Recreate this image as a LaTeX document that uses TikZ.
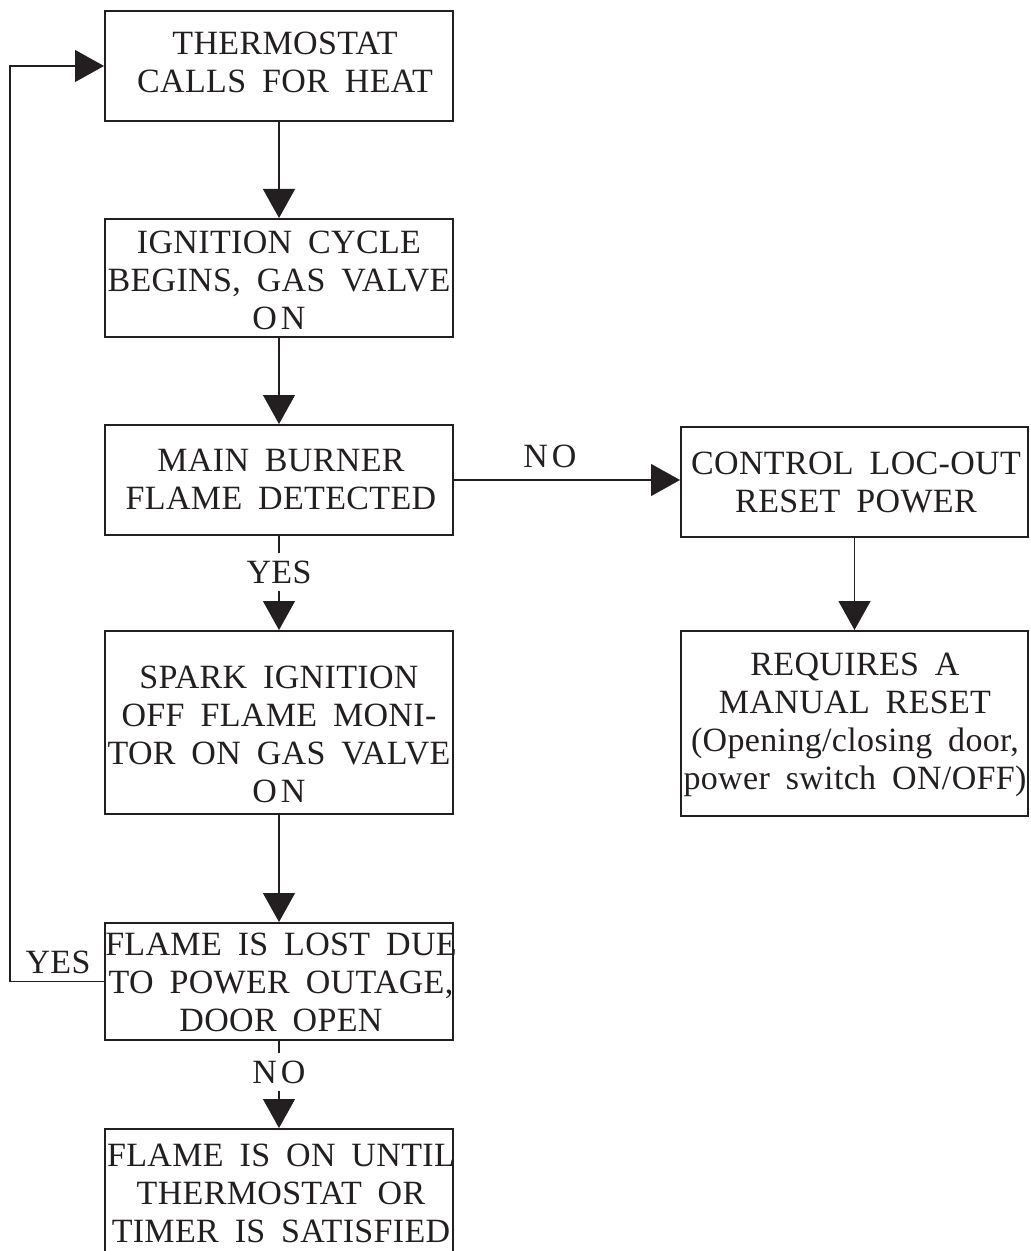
\documentclass[tikz,border=0pt]{standalone}
\usepackage{fontspec}
\setmainfont{Liberation Serif}[WordSpace=1.8,LetterSpace=1]
\usetikzlibrary{arrows.meta}
\definecolor{ink}{HTML}{231F20}
\begin{document}
\begin{tikzpicture}[x=0.5pt,y=-0.5pt,
  box/.style={draw=ink, line width=1pt, inner sep=0pt, minimum width=174pt},
  txt/.style={text=ink, align=center, inner sep=0pt, font=\fontsize{17}{19}\selectfont},
  conn/.style={draw=ink, line width=0.6pt, -{Triangle[length=14.5pt,width=16pt]}},
  plain/.style={draw=ink, line width=0.6pt},
  lbl/.style={text=ink, inner sep=3.5pt, font=\fontsize{17}{19}\selectfont}]
\useasboundingbox (0,0) rectangle (1030,1251);
% boxes
\node[box, minimum height=55pt]   (b1) at (279,66) {};
\node[box, minimum height=59pt]   (b2) at (279,278) {};
\node[box, minimum height=55pt]   (b3) at (279,480) {};
\node[box, minimum height=91.5pt] (b4) at (279,722.5) {};
\node[box, minimum height=58.5pt] (b5) at (279,981.5) {};
\node[box, minimum height=62pt]   (b6) at (279,1191) {};
\node[box, minimum height=55pt, minimum width=173.5pt]   (b7) at (854.5,482) {};
\node[box, minimum height=92.5pt, minimum width=173.5pt] (b8) at (854.5,723.5) {};
% texts
\node[txt] (t1) at (285,62) {THERMOSTAT\\CALLS FOR HEAT};
\node[txt] (t2) at (279,280) {IGNITION CYCLE\\BEGINS, GAS VALVE\\O\kern2pt N};
\node[txt] (t3) at (281,479) {MAIN BURNER\\FLAME DETECTED};
\node[txt] (t4) at (279,734) {SPARK IGNITION\\OFF FLAME MONI-\\TOR ON GAS VALVE\\O\kern2pt N};
\node[txt] (t5) at (281,982) {FLAME IS LOST DUE\\TO POWER OUTAGE,\\DOOR OPEN};
\node[txt] (t6) at (281,1193) {FLAME IS ON UNTIL\\THERMOSTAT OR\\TIMER IS SATISFIED};
\node[txt] (t7) at (856,482.5) {CONTROL LOC-OUT\\RESET POWER};
\node[txt] (t8) at (855,725) {REQUIRES A\\MANUAL RESET\\(Opening/closing door,\\power switch ON/OFF)};
% labels
\node[lbl] (yes1) at (279,572) {YES};
\node[lbl] (no1)  at (550,456) {N\kern2pt O};
\node[lbl] (yes2) at (58,962) {YES};
\node[lbl] (no2)  at (279,1072) {N\kern2pt O};
\coordinate (lc) at (10,0);
% connectors
\draw[conn] (b1.south) -- (b2.north);
\draw[conn] (b2.south) -- (b3.north);
\draw[plain] (b3.south) -- (yes1.north);
\draw[conn] (yes1.south) -- (b4.north);
\draw[conn] (b4.south) -- (b5.north);
\draw[plain] (b5.south) -- (no2.north);
\draw[conn] (no2.south) -- (b6.north);
\draw[conn] (b3.east) -- (b3.east -| b7.west);
\draw[conn] (b7.south) -- (b8.north);
\draw[conn] (b5.west) -- (b5.west -| lc) |- (b1.west);
\end{tikzpicture}
\end{document}
